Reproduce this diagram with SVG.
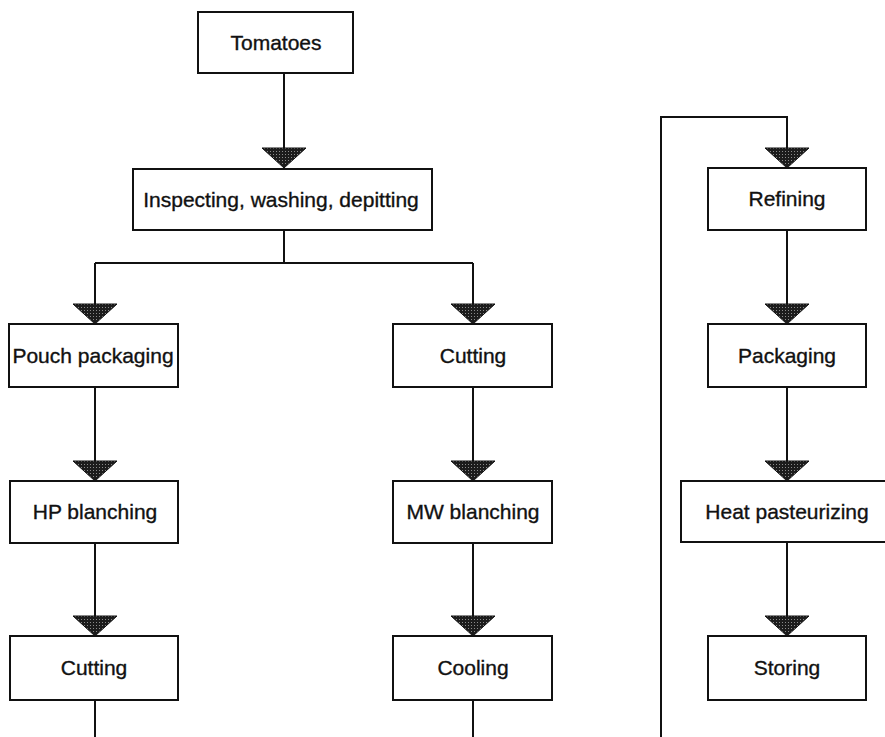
<svg xmlns="http://www.w3.org/2000/svg" width="885" height="737" viewBox="0 0 885 737">
  <style>
    .box rect { fill: #ffffff; stroke: #111111; stroke-width: 2; }
    .box text { font-family: "Liberation Sans", Arial, sans-serif; font-size: 21px; fill: #111111; stroke: #111111; stroke-width: 0.35; text-anchor: middle; }
    .wire { fill: none; stroke: #111111; stroke-width: 2; }
    .head { fill: url(#stipple); stroke: #111111; stroke-width: 1; }
  </style>
  <defs>
    <!-- fine halftone fill used by the arrowheads -->
    <pattern id="stipple" width="3" height="3" patternUnits="userSpaceOnUse">
      <rect width="3" height="3" fill="#1c1c1c"/>
      <rect x="1" y="1" width="1" height="1" fill="#8a8a8a"/>
    </pattern>
    <!-- downward triangular arrowhead, tip at (0,0) -->
    <polygon id="arrowhead" points="-22,-20 22,-20 0,0"/>
  </defs>

  <rect width="885" height="737" fill="#ffffff"/>

  <!-- connectors -->
  <g id="connectors">
    <path class="wire" d="M284,73 V150"/>
    <path class="wire" d="M284,230 V263 M95,263 H473 M95,263 V305 M473,263 V305"/>
    <path class="wire" d="M95,387 V462 M95,543 V617 M95,700 V737"/>
    <path class="wire" d="M473,387 V462 M473,543 V617 M473,700 V737"/>
    <path class="wire" d="M661,737 V117 H787 V150"/>
    <path class="wire" d="M787,230 V305 M787,387 V462 M787,542 V617"/>

    <use href="#arrowhead" class="head" x="284" y="168"/>
    <use href="#arrowhead" class="head" x="95" y="324"/>
    <use href="#arrowhead" class="head" x="473" y="324"/>
    <use href="#arrowhead" class="head" x="95" y="481"/>
    <use href="#arrowhead" class="head" x="473" y="481"/>
    <use href="#arrowhead" class="head" x="95" y="636"/>
    <use href="#arrowhead" class="head" x="473" y="636"/>
    <use href="#arrowhead" class="head" x="787" y="168"/>
    <use href="#arrowhead" class="head" x="787" y="324"/>
    <use href="#arrowhead" class="head" x="787" y="481"/>
    <use href="#arrowhead" class="head" x="787" y="636"/>
  </g>

  <!-- process steps -->
  <g id="tomatoes" class="box">
    <rect x="198" y="12" width="155" height="61"/>
    <text x="276" y="50">Tomatoes</text>
  </g>
  <g id="inspecting" class="box">
    <rect x="133" y="169" width="299" height="61"/>
    <text x="281" y="207">Inspecting, washing, depitting</text>
  </g>

  <g id="pouch-packaging" class="box">
    <rect x="9" y="324" width="169" height="63"/>
    <text x="93" y="363">Pouch packaging</text>
  </g>
  <g id="hp-blanching" class="box">
    <rect x="10" y="481" width="168" height="62"/>
    <text x="95" y="519">HP blanching</text>
  </g>
  <g id="cutting-left" class="box">
    <rect x="10" y="636" width="168" height="64"/>
    <text x="94" y="675">Cutting</text>
  </g>

  <g id="cutting-right" class="box">
    <rect x="393" y="324" width="159" height="63"/>
    <text x="473" y="363">Cutting</text>
  </g>
  <g id="mw-blanching" class="box">
    <rect x="393" y="481" width="159" height="62"/>
    <text x="473" y="519">MW blanching</text>
  </g>
  <g id="cooling" class="box">
    <rect x="393" y="636" width="159" height="64"/>
    <text x="473" y="675">Cooling</text>
  </g>

  <g id="refining" class="box">
    <rect x="708" y="168" width="158" height="62"/>
    <text x="787" y="206">Refining</text>
  </g>
  <g id="packaging" class="box">
    <rect x="708" y="324" width="158" height="63"/>
    <text x="787" y="363">Packaging</text>
  </g>
  <g id="heat-pasteurizing" class="box">
    <rect x="681" y="481" width="215" height="61"/>
    <text x="787" y="519">Heat pasteurizing</text>
  </g>
  <g id="storing" class="box">
    <rect x="708" y="636" width="158" height="64"/>
    <text x="787" y="675">Storing</text>
  </g>
</svg>
